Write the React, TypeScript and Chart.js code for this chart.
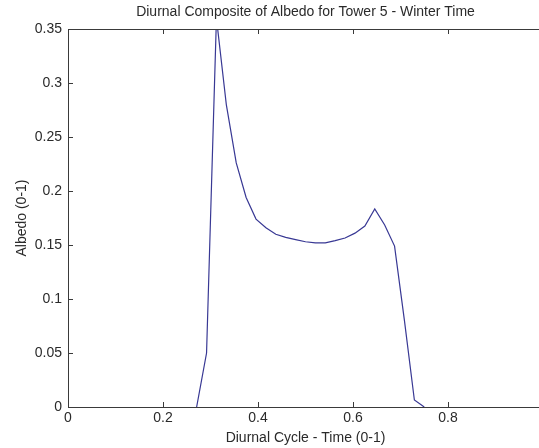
import React, { useEffect, useRef } from "react";
import { Chart, registerables } from "chart.js";

Chart.register(...registerables);

const titleText = "Diurnal Composite of Albedo for Tower 5 - Winter Time";
const xTitle = "Diurnal Cycle - Time (0-1)";
const yTitle = "Albedo (0-1)";

const timeValues = [
  0.2708, 0.2917, 0.3125, 0.3333, 0.3542, 0.375, 0.3958, 0.4167, 0.4375, 0.4583,
  0.4792, 0.5, 0.5208, 0.5417, 0.5625, 0.5833, 0.6042, 0.625, 0.6458, 0.6667,
  0.6875, 0.7083, 0.7292, 0.75,
];
const albedoValues = [
  0, 0.05, 0.36, 0.28, 0.226, 0.194, 0.174, 0.166, 0.16, 0.157,
  0.155, 0.153, 0.152, 0.152, 0.154, 0.1565, 0.161, 0.1676, 0.1833, 0.1685,
  0.149, 0.08, 0.0065, 0,
];
const xTickValues = [0, 0.2, 0.4, 0.6, 0.8, 1];
const yTickValues = [0, 0.05, 0.1, 0.15, 0.2, 0.25, 0.3, 0.35];

const FONT = "'Liberation Sans', Arial, sans-serif";
const TEXT = "#2a2a2a";
const AXIS = "#3a3a3a";

const axesBox = {
  id: "axesBox",
  afterDraw(chart: any) {
    const { ctx, chartArea } = chart;
    const xs = chart.scales.x;
    const ys = chart.scales.y;
    const len = 5;
    ctx.save();
    ctx.strokeStyle = AXIS;
    ctx.lineWidth = 1;
    ctx.beginPath();
    ctx.moveTo(chartArea.left, Math.round(chartArea.top) + 0.5);
    ctx.lineTo(chartArea.right, Math.round(chartArea.top) + 0.5);
    xTickValues.forEach((v) => {
      const px = Math.round(xs.getPixelForValue(v)) + 0.5;
      ctx.moveTo(px, chartArea.bottom);
      ctx.lineTo(px, chartArea.bottom - len);
      ctx.moveTo(px, chartArea.top);
      ctx.lineTo(px, chartArea.top + len);
    });
    yTickValues.forEach((v) => {
      const py = Math.round(ys.getPixelForValue(v)) + 0.5;
      ctx.moveTo(chartArea.left, py);
      ctx.lineTo(chartArea.left + len, py);
    });
    ctx.stroke();
    ctx.fillStyle = TEXT;
    ctx.font = `14px ${FONT}`;
    ctx.textAlign = "center";
    ctx.textBaseline = "middle";
    ctx.fillText(titleText, (chartArea.left + chartArea.right) / 2, 12);
    ctx.restore();
  },
};

export default function App() {
  const ref = useRef<HTMLCanvasElement | null>(null);

  useEffect(() => {
    document.body.style.margin = "0";
    const canvas = ref.current!;
    const chart = new Chart(canvas, {
      type: "line",
      data: {
        datasets: [
          {
            data: timeValues.map((t, i) => ({ x: t, y: albedoValues[i] })),
            borderColor: "#383894",
            borderWidth: 1.2,
            pointRadius: 0,
            tension: 0,
            fill: false,
          },
        ],
      },
      options: {
        responsive: false,
        animation: false,
        devicePixelRatio: 1,
        layout: { padding: { left: 0, right: 67, top: 29, bottom: 0 } },
        plugins: {
          legend: { display: false },
          tooltip: { enabled: false },
          title: { display: false },
        },
        scales: {
          x: {
            type: "linear",
            min: 0,
            max: 1,
            afterFit: (s: any) => {
              s.height = 41;
            },
            afterBuildTicks: (s: any) => {
              s.ticks = xTickValues.map((v) => ({ value: v }));
            },
            ticks: {
              color: TEXT,
              font: { family: FONT, size: 14 },
              padding: 3,
              maxRotation: 0,
              autoSkip: false,
              callback: (v: any) => (v === 1 ? "" : String(v)),
            },
            grid: { display: false, drawTicks: false },
            border: { display: true, color: AXIS, width: 1 },
            title: {
              display: true,
              text: xTitle,
              color: TEXT,
              font: { family: FONT, size: 14 },
              padding: { top: 0, bottom: 1.2 },
            },
          },
          y: {
            type: "linear",
            min: 0,
            max: 0.35,
            afterFit: (s: any) => {
              s.width = 68;
            },
            afterBuildTicks: (s: any) => {
              s.ticks = yTickValues.map((v) => ({ value: v }));
            },
            ticks: {
              color: TEXT,
              font: { family: FONT, size: 14 },
              padding: 6,
              autoSkip: false,
              callback: (v: any) => String(v),
            },
            grid: { display: false, drawTicks: false },
            border: { display: true, color: AXIS, width: 1 },
            title: {
              display: true,
              text: yTitle,
              color: TEXT,
              font: { family: FONT, size: 14 },
              padding: { top: 13.5, bottom: 0 },
            },
          },
        },
      },
      plugins: [axesBox],
    });
    return () => chart.destroy();
  }, []);

  return (
    <div
      style={{
        position: "fixed",
        left: 0,
        top: 0,
        width: 539,
        height: 448,
        overflow: "hidden",
        background: "#fff",
      }}
    >
      <canvas ref={ref} width={610} height={448} style={{ display: "block" }} />
    </div>
  );
}
